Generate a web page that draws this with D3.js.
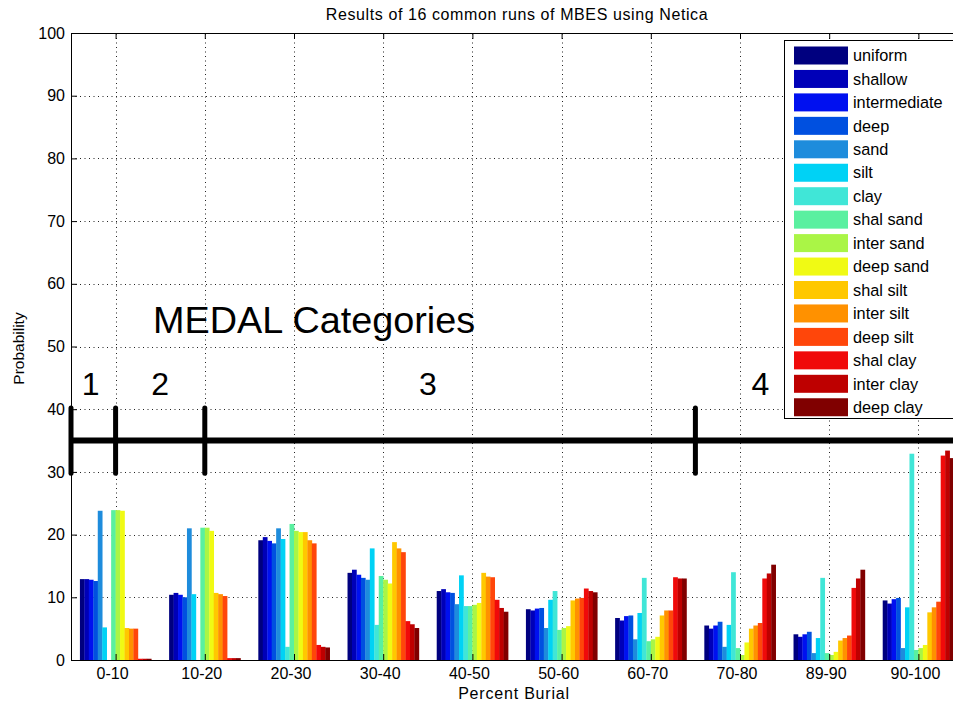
<!DOCTYPE html>
<html><head><meta charset="utf-8">
<script src="https://cdn.jsdelivr.net/npm/d3@7"></script>
<style>body{margin:0;background:#fff} svg{display:block} text{font-family:Arial,"Liberation Sans",sans-serif;fill:#000}</style>
</head><body><svg id="c" width="953" height="707"></svg>
<script>
// ---------- data ----------
const categories = ["0-10","10-20","20-30","30-40","40-50","50-60","60-70","70-80","89-90","90-100"];
const seriesNames = ["uniform","shallow","intermediate","deep","sand","silt","clay","shal sand","inter sand","deep sand","shal silt","inter silt","deep silt","shal clay","inter clay","deep clay"];
const seriesColors = ["#00007f","#0000b8","#0010f0","#0050e0","#1e8cdc","#00d2f5","#40e6d7","#5af0a0","#aaf546","#f0fa14","#ffc800","#ff9100","#ff460a","#f00a0a","#be0000","#800000"];
const v0_10   = [12.9,12.9,12.8,12.6,23.8,5.2,0.0,23.9,23.9,23.8,5.1,5.0,5.0,0.2,0.2,0.2];
const v10_20  = [10.4,10.7,10.4,10.0,21.0,10.5,0.0,21.1,21.1,20.6,10.7,10.5,10.2,0.3,0.3,0.3];
const v20_30  = [19.1,19.6,19.0,18.6,21.0,19.3,2.1,21.7,20.6,20.4,20.4,19.1,18.6,2.4,2.1,2.0];
const v30_40  = [13.9,14.4,13.6,13.1,12.8,17.8,5.6,13.4,12.8,12.2,18.8,17.8,17.2,6.2,5.7,5.1];
const v40_50  = [11.0,11.3,10.8,10.7,8.9,13.5,8.6,8.6,8.8,9.1,13.9,13.3,13.2,9.6,8.3,7.7];
const v50_60  = [8.1,7.9,8.2,8.3,5.1,9.6,11.0,4.8,5.1,5.4,9.5,9.8,9.9,11.4,11.0,10.8];
const v60_70  = [6.7,6.3,7.0,7.1,3.3,7.5,13.1,3.0,3.3,3.7,7.1,7.9,7.9,13.2,13.0,13.0];
const v70_80  = [5.5,5.0,5.5,6.1,2.1,5.6,14.0,1.9,0.8,2.8,5.0,5.5,5.9,13.0,13.8,15.2];
const v89_90  = [4.1,3.7,4.1,4.5,1.1,3.5,13.1,1.1,0.8,1.3,3.1,3.5,3.9,11.5,13.0,14.4];
const v90_100 = [9.5,9.0,9.7,9.9,1.9,8.4,32.9,1.6,1.9,2.4,7.6,8.4,9.3,32.6,33.4,32.2];
const groupValues = [v0_10,v10_20,v20_30,v30_40,v40_50,v50_60,v60_70,v70_80,v89_90,v90_100];
const yTicks = [0,10,20,30,40,50,60,70,80,90,100];
const medalLabels = ["1","2","3","4"];
const medalLabelX = [0.72,1.5,4.5,8.23];
const medalBounds = [0.5,1,2,7.5];

// ---------- chart ----------
const svg = d3.select("#c");
const x = d3.scaleLinear().domain([0.5,10.5]).range([71,963]);
const y = d3.scaleLinear().domain([0,100]).range([660,33]);
const groupIdx = d3.range(1, categories.length+1);
const xb = d3.scaleBand().domain(seriesNames).range([0, x(1.4)-x(0.6)]);

// grid
const grid = svg.append("g").attr("stroke","#222").attr("stroke-width",1).attr("stroke-dasharray","1,3.5");
grid.selectAll("line.h").data(yTicks.filter(d=>d>0&&d<100)).join("line")
  .attr("x1",x(0.5)).attr("x2",x(10.5)).attr("y1",d=>Math.round(y(d))+0.5).attr("y2",d=>Math.round(y(d))+0.5);
grid.selectAll("line.v").data(groupIdx).join("line")
  .attr("y1",y(0)).attr("y2",y(100)).attr("x1",d=>Math.round(x(d))+0.5).attr("x2",d=>Math.round(x(d))+0.5);

// bars
const groups = svg.append("g").selectAll("g").data(groupValues).join("g")
  .attr("transform",(d,i)=>`translate(${x(i+1-0.4)},0)`);
groups.selectAll("rect").data(d=>d.map((v,j)=>({v,name:seriesNames[j],c:seriesColors[j]}))).join("rect")
  .attr("x",d=>xb(d.name)).attr("width",xb.bandwidth()+0.3)
  .attr("y",d=>y(d.v)).attr("height",d=>y(0)-y(d.v)).attr("fill",d=>d.c);

// axes
const fs = "16px";
const ax = svg.append("g").attr("transform",`translate(${x(0.5)},0)`)
  .call(d3.axisLeft(y).tickValues(yTicks).tickSize(-6).tickSizeOuter(0).tickPadding(6));
const bx = svg.append("g").attr("transform",`translate(0,${y(0)})`)
  .call(d3.axisBottom(x).tickValues(groupIdx).tickFormat(i=>categories[i-1]).tickSize(-6).tickSizeOuter(0).tickPadding(8));
bx.selectAll("text").attr("dx",-3.5);
const tx = svg.append("g").attr("transform",`translate(0,${y(100)})`)
  .call(d3.axisTop(x).tickValues(groupIdx).tickFormat("").tickSize(-6).tickSizeOuter(0));
const rx = svg.append("g").attr("transform",`translate(${x(10.5)},0)`)
  .call(d3.axisRight(y).tickValues(yTicks).tickFormat("").tickSize(-6).tickSizeOuter(0));
[ax,bx,tx,rx].forEach(g=>{g.selectAll("path,line").attr("stroke","#000");g.selectAll("text").style("font-size",fs).attr("fill","#000").attr("font-family",null);});

// title and labels
svg.append("text").attr("x",(x(0.5)+x(10.5))/2).attr("y",20).attr("text-anchor","middle").style("font-size","16px").style("letter-spacing","0.6px")
  .text("Results of 16 common runs of MBES using Netica");
svg.append("text").attr("x",(x(0.5)+x(10.5))/2 - 3).attr("y",699).attr("text-anchor","middle").style("font-size","16px").style("letter-spacing","0.8px")
  .text("Percent Burial");
svg.append("text").attr("transform",`translate(24,${(y(0)+y(100))/2 + 2}) rotate(-90)`).attr("text-anchor","middle").style("font-size","15.5px")
  .text("Probability");

// MEDAL annotation
svg.append("text").attr("x",x(1.42)).attr("y",y(52.2)).style("font-size","37.8px").text("MEDAL Categories");
svg.append("g").selectAll("text").data(medalLabels).join("text")
  .attr("x",(d,i)=>x(medalLabelX[i])).attr("y",y(42.3)).attr("text-anchor","middle").style("font-size","32px").text(d=>d);
svg.append("line").attr("x1",x(0.5)).attr("x2",x(10.5)).attr("y1",y(35)).attr("y2",y(35)).attr("stroke","#000").attr("stroke-width",6);
svg.append("g").selectAll("line").data(medalBounds).join("line")
  .attr("x1",d=>x(d)).attr("x2",d=>x(d)).attr("y1",y(40.2)).attr("y2",y(29.8)).attr("stroke","#000").attr("stroke-width",5).attr("stroke-linecap","round");

// legend
const lg = svg.append("g");
lg.append("rect").attr("x",784.5).attr("y",40.5).attr("width",200).attr("height",378).attr("fill","#fff").attr("stroke","#000");
const li = lg.selectAll("g").data(seriesNames).join("g").attr("transform",(d,i)=>`translate(0,${55.5+i*23.45})`);
li.append("rect").attr("x",794).attr("y",-9).attr("width",54).attr("height",18).attr("fill",(d,i)=>seriesColors[i]);
li.append("text").attr("x",853).attr("y",0).attr("dy","0.35em").style("font-size","16.3px").text(d=>d);
</script></body></html>
